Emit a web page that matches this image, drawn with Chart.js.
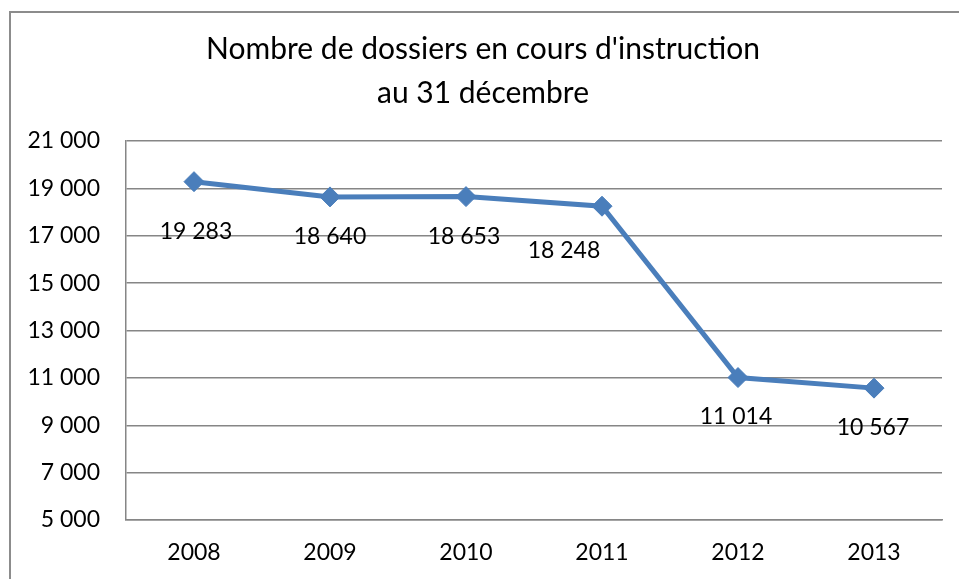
<!DOCTYPE html>
<html>
<head>
<meta charset="utf-8">
<script src="https://cdn.jsdelivr.net/npm/chart.js@4/dist/chart.umd.min.js"></script>
<style>
  body { margin: 0; background: #fff; }
  #wrap { width: 959px; height: 579px; position: relative; }
</style>
</head>
<body>
<div id="wrap"><canvas id="chart" width="959" height="579"></canvas></div>
<script>
// data
const years = ['2008', '2009', '2010', '2011', '2012', '2013'];
const dossiers = [19283, 18640, 18653, 18248, 11014, 10567];
const yTicks = [5000, 7000, 9000, 11000, 13000, 15000, 17000, 19000, 21000];
const titleLines = ["Nombre de dossiers en cours d'instruction", 'au 31 décembre'];

// label nudges (x, y) in px, relative to each point
const labelShift = [[2, 50], [0, 40], [-2, 40], [-38, 44], [-2, 39], [-1, 39]];

const FONT = 'Lato, "Open Sans", sans-serif';
const BLUE = '#4a7ebb';

function fmt(v) {
    return String(v).replace(/\B(?=(\d{3})+(?!\d))/g, ' ');
}

// outer frame of the chart object
const framePlugin = {
    id: 'frame',
    beforeDraw(chart) {
        const ctx = chart.ctx;
        ctx.save();
        ctx.fillStyle = '#fff';
        ctx.fillRect(0, 0, chart.width, chart.height);
        ctx.strokeStyle = '#8c8c8c';
        ctx.lineWidth = 2;
        ctx.strokeRect(10, 12, chart.width + 20, chart.height + 20);
        ctx.restore();
    }
};

// values written under the points
const valueLabels = {
    id: 'valueLabels',
    afterDatasetsDraw(chart) {
        const ctx = chart.ctx;
        const meta = chart.getDatasetMeta(0);
        ctx.save();
        ctx.font = '23px ' + FONT;
        ctx.fillStyle = '#000';
        ctx.textAlign = 'center';
        ctx.textBaseline = 'middle';
        meta.data.forEach(function (pt, i) {
            const s = labelShift[i];
            ctx.fillText(fmt(dossiers[i]), pt.x + s[0], pt.y + s[1]);
        });
        ctx.restore();
    }
};

new Chart(document.getElementById('chart'), {
    type: 'line',
    data: {
        labels: years,
        datasets: [{
            data: dossiers,
            borderColor: BLUE,
            backgroundColor: BLUE,
            borderWidth: 5,
            pointStyle: 'rectRot',
            pointRadius: 10,
            pointHoverRadius: 10,
            pointBorderWidth: 1,
            tension: 0
        }]
    },
    options: {
        responsive: false,
        animation: false,
        layout: { padding: { left: 24, right: 17, top: 0, bottom: 0 } },
        plugins: {
            legend: { display: false },
            tooltip: { enabled: false },
            title: {
                display: true,
                text: titleLines,
                color: '#000',
                font: { family: FONT, size: 30, weight: 'normal', lineHeight: 1.45 },
                padding: { top: 28, bottom: 26 }
            }
        },
        scales: {
            x: {
                offset: true,
                afterFit(scale) { scale.height = 59; },
                grid: { display: false, drawTicks: false },
                border: { display: true, color: '#868686', width: 1.5 },
                ticks: {
                    color: '#000',
                    padding: 19,
                    font: { family: FONT, size: 23 }
                }
            },
            y: {
                min: 5000,
                max: 21000,
                afterFit(scale) { scale.width = 102; },
                afterBuildTicks(scale) {
                    scale.ticks = yTicks.map(v => ({ value: v }));
                },
                grid: { color: '#868686', lineWidth: 1.5, drawTicks: false },
                border: { display: true, color: '#868686', width: 1.5 },
                ticks: {
                    color: '#000',
                    padding: 26,
                    font: { family: FONT, size: 23 },
                    callback: v => fmt(v)
                }
            }
        }
    },
    plugins: [framePlugin, valueLabels]
});
</script>
</body>
</html>
